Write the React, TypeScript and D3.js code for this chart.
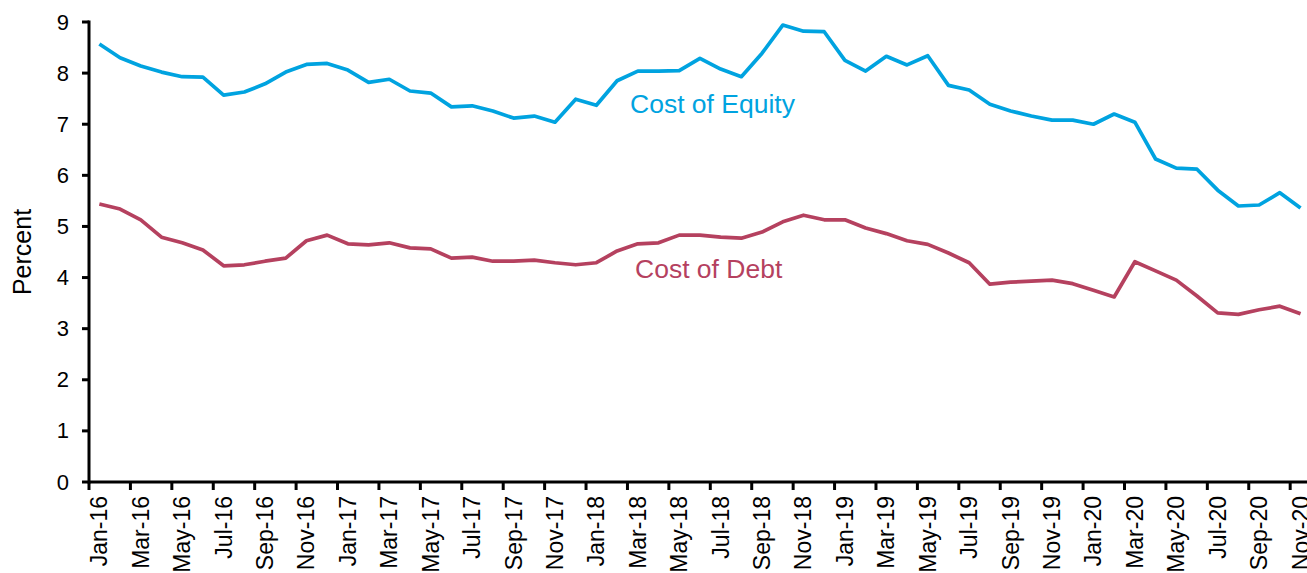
import React from 'react';
import * as d3 from 'd3';

// monthly, Jan-16 .. Nov-20
const months = d3.timeMonths(new Date(2016, 0, 1), new Date(2020, 11, 1)).map(d3.timeFormat('%b-%y'));

const costOfEquity = [
  8.57, 8.30, 8.14, 8.02, 7.93, 7.92, 7.57, 7.63, 7.79, 8.02, 8.17, 8.19,
  8.06, 7.82, 7.88, 7.65, 7.61, 7.34, 7.36, 7.26, 7.12, 7.16, 7.04, 7.49,
  7.37, 7.85, 8.04, 8.04, 8.05, 8.29, 8.08, 7.93, 8.39, 8.94, 8.82, 8.81,
  8.25, 8.04, 8.33, 8.16, 8.34, 7.76, 7.67, 7.39, 7.26, 7.16, 7.08, 7.08,
  7.00, 7.20, 7.04, 6.32, 6.14, 6.12, 5.71, 5.40, 5.42, 5.66, 5.36,
];

const costOfDebt = [
  5.44, 5.34, 5.13, 4.79, 4.68, 4.54, 4.23, 4.25, 4.32, 4.38, 4.72, 4.83,
  4.66, 4.64, 4.68, 4.58, 4.56, 4.38, 4.40, 4.32, 4.32, 4.34, 4.29, 4.25,
  4.29, 4.52, 4.66, 4.68, 4.83, 4.83, 4.79, 4.77, 4.89, 5.09, 5.22, 5.13,
  5.13, 4.97, 4.86, 4.72, 4.65, 4.48, 4.29, 3.87, 3.91, 3.93, 3.95, 3.88,
  3.75, 3.62, 4.31, 4.13, 3.95, 3.64, 3.31, 3.28, 3.37, 3.44, 3.29,
];

const yTicks = [0, 1, 2, 3, 4, 5, 6, 7, 8, 9];

const W = 1307;
const H = 573;
const left = 89;
const FONT = '"Liberation Sans", Arial, sans-serif';

export default function App() {
  const x = d3.scaleBand<string>().domain(months).range([left, left + months.length * 20.71]);
  const y = d3.scaleLinear().domain([0, 9]).range([482, 22]);
  const cx = (m: string) => (x(m) as number) + x.bandwidth() / 2;

  const line = d3.line<number>()
    .x((d, i) => cx(months[i]))
    .y(d => y(d));

  const tickMonths = months.filter((m, i) => i % 2 === 0);

  return (
    <svg width={W} height={H} style={{ position: 'absolute', left: 0, top: 0, background: '#fff' }}
      fontFamily={FONT}>
      <path d={line(costOfEquity) || ''} fill="none" stroke="#00a3e0" strokeWidth={3.7} strokeLinejoin="round" />
      <path d={line(costOfDebt) || ''} fill="none" stroke="#b5415f" strokeWidth={3.7} strokeLinejoin="round" />

      {/* y axis */}
      <line x1={left} x2={left} y1={y(9) - 1.5} y2={y(0) + 1.5} stroke="#000" strokeWidth={3} />
      {yTicks.map(t => (
        <g key={t}>
          <line x1={left - 7} x2={left} y1={y(t)} y2={y(t)} stroke="#000" strokeWidth={3} />
          <text x={69} y={y(t)} textAnchor="end" dominantBaseline="central" fontSize={22} fill="#000">{t}</text>
        </g>
      ))}
      <text transform={`translate(22,${(y(0) + y(9)) / 2}) rotate(-90)`} textAnchor="middle"
        dominantBaseline="central" fontSize={25} fill="#000">Percent</text>

      {/* x axis */}
      <line x1={left} x2={W} y1={y(0)} y2={y(0)} stroke="#000" strokeWidth={3} />
      {tickMonths.map(m => (
        <g key={m}>
          <line x1={x(m)} x2={x(m)} y1={y(0)} y2={y(0) + 8} stroke="#000" strokeWidth={3} />
          <text transform={`translate(${cx(m)},${y(0) + 14}) rotate(-90)`} textAnchor="end"
            dominantBaseline="central" fontSize={23} fill="#000">{m}</text>
        </g>
      ))}

      <text x={630} y={113} fontSize={26.5} fill="#00a3e0">Cost of Equity</text>
      <text x={635} y={278} fontSize={26.5} fill="#b5415f">Cost of Debt</text>
    </svg>
  );
}
